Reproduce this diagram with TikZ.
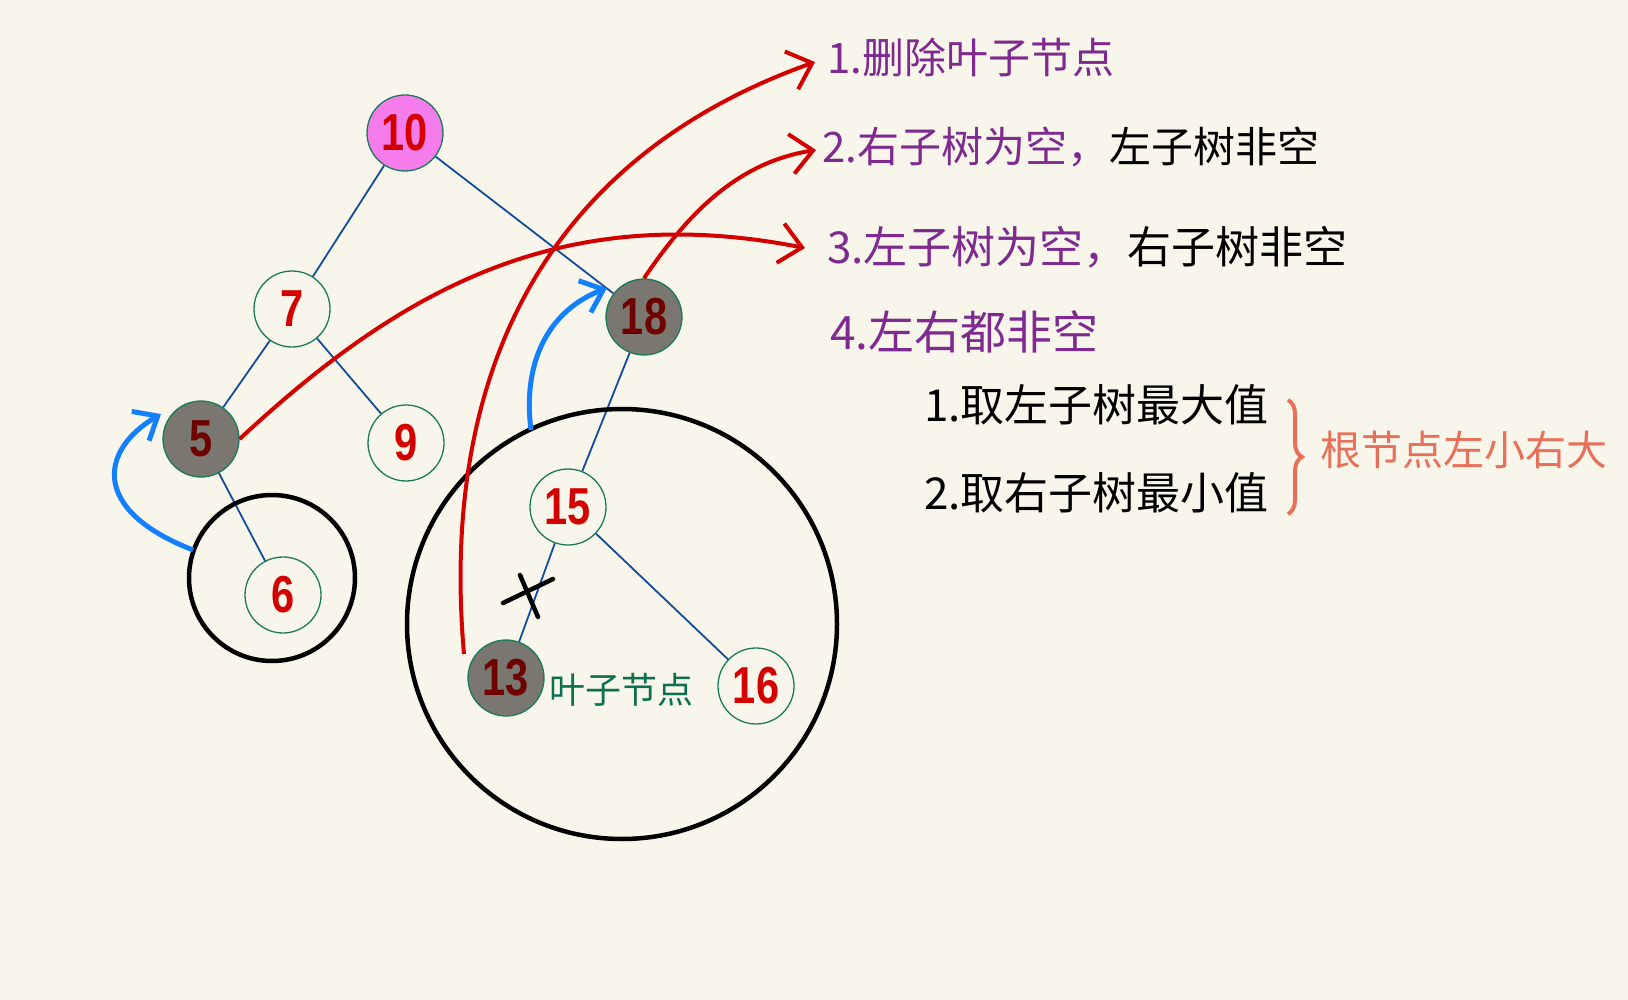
\documentclass[tikz,border=0pt]{standalone}
\usepackage{fontspec}
\usetikzlibrary{arrows.meta,decorations.pathreplacing}
\newfontfamily\cjk{Noto Sans CJK SC}
\newfontfamily\numfont[FakeStretch=0.8]{Liberation Sans}
\definecolor{paper}{HTML}{F8F6EA}
\definecolor{rimgreen}{HTML}{1A7A5A}
\definecolor{edgeblue}{HTML}{124C9A}
\definecolor{numred}{HTML}{D40000}
\definecolor{darkred}{HTML}{6E0000}
\definecolor{delgray}{HTML}{7A7770}
\definecolor{rootpink}{HTML}{F47DEB}
\definecolor{arrowred}{HTML}{D40000}
\definecolor{arrowblue}{HTML}{1480FF}
\definecolor{caseviolet}{HTML}{7E2A90}
\definecolor{noteorange}{HTML}{E8705A}
\definecolor{leafgreen}{HTML}{0C7050}

\begin{document}
\begin{tikzpicture}[x=1pt,y=-1pt,
  key/.style={circle,draw=rimgreen,line width=1.3pt,minimum size=76pt,inner sep=0pt,
    text=numred,font=\numfont\bfseries\fontsize{52}{52}\selectfont},
  hit/.style={key,fill=delgray,text=darkred},
  root/.style={key,fill=rootpink},
  edge/.style={draw=edgeblue,line width=1.8pt},
  jump/.style={draw=arrowred,line width=4pt,-{Straight Barb[length=22pt,width=40pt,line width=4pt]}},
  slide/.style={draw=arrowblue,line width=5pt,-{Straight Barb[length=20pt,width=34pt,line width=5pt]}},
  ring/.style={draw=black,line width=4.5pt},
  note/.style={anchor=west,inner sep=0pt,font=\cjk\fontsize{42}{42}\selectfont}]
\useasboundingbox[fill=paper] (0,0) rectangle (1628,1000);

% the tree
\node[root] (n10) at (405,133) {10};
\node[key] (n7) at (292,309) {7};
\node[hit] (n5) at (201,439) {5};
\node[key] (n9) at (406,443) {9};
\node[key] (n6) at (283,595) {6};
\node[hit] (n18) at (644,317) {18};
\node[key] (n15) at (568,507) {15};
\node[hit] (n13) at (506,678) {13};
\node[key] (n16) at (756,686) {16};

\draw[edge] (n10)--(n7);
\draw[edge] (n10)--(n18);
\draw[edge] (n7)--(n5);
\draw[edge] (n7)--(n9);
\draw[edge] (n5)--(n6);
\draw[edge] (n18)--(n15);
\draw[edge] (n15)--(n13);
\draw[edge] (n15)--(n16);

% subtrees
\draw[ring] (272,578) circle (83);
\draw[ring] (622,624) circle (215);

% cut mark
\coordinate (cutA) at (503,603);
\coordinate (cutB) at (553,579);
\coordinate (cutC) at (520,575);
\coordinate (cutD) at (538,617);
\draw[line width=4.5pt,line cap=round] (cutA)--(cutB);
\draw[line width=4.5pt,line cap=round] (cutC)--(cutD);

\node[anchor=west,inner sep=0pt,text=leafgreen,font=\cjk\fontsize{36}{36}\selectfont] (leaf) at (549,690) {叶子节点};

% cases
\node[note,text=caseviolet] (case1) at (827,57) {1.删除叶子节点};
\node[note,text=caseviolet] (case2) at (822,147) {2.右子树为空，{\color{black}左子树非空}};
\node[note,text=caseviolet,font=\cjk\fontsize{44}{44}\selectfont] (case3) at (827,247) {3.左子树为空，{\color{black}右子树非空}};
\node[note,text=caseviolet,font=\cjk\fontsize{46}{46}\selectfont] (case4) at (830,332) {4.左右都非空};
\node[note,font=\cjk\fontsize{44}{44}\selectfont] (pick1) at (924,405) {1.取左子树最大值};
\node[note,font=\cjk\fontsize{44}{44}\selectfont] (pick2) at (924,493) {2.取右子树最小值};
\node[note,text=noteorange,font=\cjk\fontsize{41}{41}\selectfont] (rule) at (1320,450) {根节点左小右大};

\coordinate (braceTop) at (1288,400);
\coordinate (braceBot) at (1288,514);
\draw[noteorange,line width=4pt,decorate,decoration={brace,amplitude=14pt}] (braceTop)--(braceBot);

% arrows to the cases
\coordinate (from13) at (464,654);
\coordinate (tip1) at (815,62);
\coordinate (tip2) at (816,150);
\coordinate (tip3) at (805,248);
\draw[jump] (from13) .. controls (440,380) and (540,160) .. (tip1);
\draw[jump] (n18.north) .. controls (690,210) and (740,162) .. (tip2);
\draw[jump] (n5.east) .. controls (400,290) and (560,200) .. (tip3);

% moving a child up
\coordinate (from6) at (193,550);
\coordinate (to5) at (161,414);
\coordinate (from15) at (531,430);
\coordinate (to18) at (607,288);
\draw[slide] (from6) .. controls (90,510) and (100,450) .. (to5);
\draw[slide] (from15) .. controls (522,360) and (550,310) .. (to18);
\end{tikzpicture}
\end{document}
